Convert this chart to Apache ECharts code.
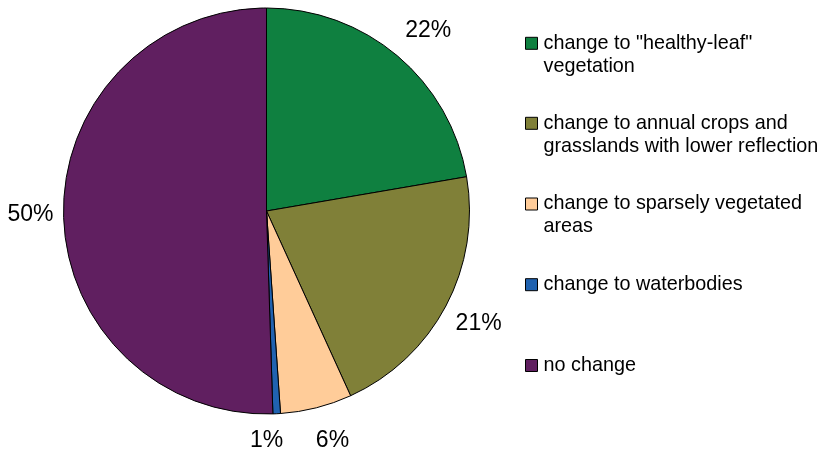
<!DOCTYPE html>
<html>
<head>
<meta charset="utf-8">
<script src="https://cdn.jsdelivr.net/npm/echarts@6/dist/echarts.min.js"></script>
<style>
html,body{margin:0;padding:0;background:#fff;}
#chart{width:819px;height:452px;}
</style>
</head>
<body>
<div id="chart"></div>
<script>
const categories = [
  'change to "healthy-leaf" vegetation',
  'change to annual crops and grasslands with lower reflection',
  'change to sparsely vegetated areas',
  'change to waterbodies',
  'no change'
];
const legendLines = [
  ['change to "healthy-leaf"', 'vegetation'],
  ['change to annual crops and', 'grasslands with lower reflection'],
  ['change to sparsely vegetated', 'areas'],
  ['change to waterbodies'],
  ['no change']
];
const values = [22.3, 20.9, 5.7, 0.6, 50.5];
const colors = ['#0F8040', '#808038', '#FFCC99', '#2062B0', '#601F60'];

const chart = echarts.init(document.getElementById('chart'), null, {renderer: 'canvas'});

const font = 'Liberation Sans, Arial, sans-serif';
const legendCenters = [43.3, 123.3, 204, 284.7, 365.5];
const legendLH = 23;

const legends = categories.map((name, i) => {
  const lines = legendLines[i];
  const multi = lines.length > 1;
  const boxH = multi ? legendLH * 3 : legendLH;
  return {
    orient: 'vertical',
    left: 525,
    top: legendCenters[i] - boxH / 2,
    padding: 0,
    itemWidth: 12,
    itemHeight: 12,
    itemGap: 0,
    icon: 'rect',
    selectedMode: false,
    itemStyle: {borderColor: '#000', borderWidth: 1},
    textStyle: {fontFamily: font, fontSize: 19.8, color: '#000', lineHeight: legendLH, padding: [0, 0, 0, 1]},
    formatter: () => multi ? '\n' + lines.join('\n') : lines[0],
    data: [{name: name}]
  };
});

const data = categories.map((name, i) => ({
  name: name,
  value: values[i],
  itemStyle: {color: colors[i]}
}));

chart.setOption({
  backgroundColor: '#fff',
  animation: false,
  color: colors,
  legend: legends,
  series: [
    {
      type: 'pie',
      center: [266.5, 211],
      radius: [0, 203],
      startAngle: 90,
      clockwise: true,
      silent: true,
      label: {show: false},
      labelLine: {show: false},
      itemStyle: {borderColor: '#000', borderWidth: 1},
      emphasis: {disabled: true},
      data: data
    },
    {
      type: 'pie',
      center: [266.5, 211],
      radius: [230, 244],
      startAngle: 90,
      clockwise: true,
      silent: true,
      percentPrecision: 0,
      itemStyle: {color: 'rgba(0,0,0,0)', borderWidth: 0},
      emphasis: {disabled: true},
      label: {
        show: true,
        position: 'inside',
        formatter: '{d}%',
        fontFamily: font,
        fontSize: 23,
        color: '#000'
      },
      labelLine: {show: false},
      labelLayout: function (p) {
        if (p.dataIndex === 3) return {dx: -12, dy: -10};
        if (p.dataIndex === 0) return {dx: 7, dy: 3};
        if (p.dataIndex === 2) return {dx: 7, dy: -3};
        if (p.dataIndex === 4) return {dx: 4, dy: 0};
        return {};
      },
      data: categories.map((name, i) => ({name: name, value: values[i]}))
    }
  ]
});
</script>
</body>
</html>
